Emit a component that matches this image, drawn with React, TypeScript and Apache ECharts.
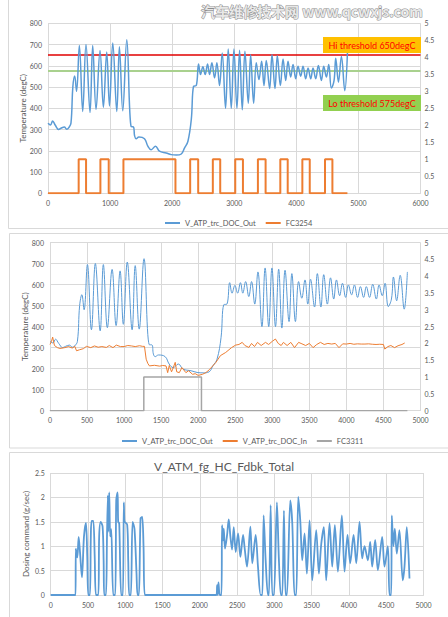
import React, { useEffect, useRef } from 'react';
import * as echarts from 'echarts';

// V_ATP_trc_DOC_Out (degC) vs time
const outTime = [0, 40, 75, 118, 172, 209, 263, 301, 333, 370, 400, 430, 460, 505, 559, 612, 677, 720, 774, 838, 892, 946, 990, 1043, 1108, 1150, 1204, 1269, 1339, 1376, 1395, 1420, 1463, 1554, 1608, 1662, 1732, 1796, 1904, 1985, 2066, 2147, 2200, 2254, 2308, 2345, 2388, 2425, 2457, 2495, 2532, 2570, 2602, 2640, 2683, 2720, 2763, 2806, 2860, 2903, 2952, 2995, 3043, 3086, 3129, 3172, 3226, 3264, 3312, 3355, 3398, 3441, 3479, 3516, 3570, 3608, 3656, 3694, 3743, 3786, 3829, 3866, 3909, 3947, 3990, 4027, 4070, 4108, 4151, 4189, 4232, 4269, 4312, 4355, 4404, 4441, 4484, 4522, 4565, 4608, 4635, 4678, 4726, 4780, 4823];
const outTemp = [330, 322, 340, 320, 300, 306, 312, 302, 308, 330, 500, 552, 480, 695, 385, 700, 380, 695, 395, 672, 405, 665, 411, 707, 385, 690, 388, 723, 314, 313, 270, 257, 265, 257, 222, 205, 222, 198, 190, 182, 180, 185, 214, 245, 347, 504, 507, 609, 559, 596, 559, 609, 559, 614, 543, 614, 507, 660, 400, 679, 400, 679, 400, 673, 393, 668, 424, 652, 424, 614, 535, 622, 507, 625, 493, 652, 493, 647, 507, 632, 531, 622, 547, 606, 539, 598, 551, 598, 539, 590, 539, 590, 539, 601, 531, 598, 547, 606, 495, 531, 636, 523, 644, 483, 660];

// V_ATP_trc_DOC_In (degC) vs time
const inTime = [0, 20, 36, 60, 100, 134, 200, 250, 300, 335, 358, 400, 450, 492, 550, 600, 650, 700, 761, 800, 850, 895, 950, 1000, 1050, 1100, 1150, 1208, 1250, 1275, 1298, 1320, 1342, 1409, 1480, 1520, 1566, 1588, 1610, 1640, 1655, 1690, 1710, 1745, 1780, 1834, 1870, 1924, 1960, 2000, 2057, 2103, 2150, 2237, 2300, 2371, 2450, 2505, 2550, 2594, 2630, 2684, 2720, 2760, 2800, 2850, 2908, 2950, 3000, 3042, 3080, 3120, 3150, 3200, 3250, 3300, 3355, 3400, 3450, 3500, 3550, 3600, 3650, 3700, 3750, 3802, 3850, 3900, 3950, 4000, 4050, 4100, 4150, 4200, 4250, 4300, 4350, 4400, 4450, 4500, 4518, 4560, 4600, 4650, 4697, 4750, 4787];
const inTemp = [315, 330, 350, 310, 300, 296, 300, 305, 298, 306, 285, 290, 295, 306, 300, 308, 302, 305, 301, 310, 300, 312, 305, 305, 310, 308, 305, 309, 306, 306, 245, 225, 213, 216, 212, 215, 213, 181, 215, 185, 197, 230, 185, 181, 205, 181, 190, 173, 176, 168, 173, 181, 195, 229, 262, 277, 300, 312, 315, 325, 310, 301, 320, 305, 325, 310, 325, 315, 330, 341, 320, 310, 325, 310, 325, 300, 325, 318, 310, 320, 300, 315, 325, 315, 320, 317, 320, 300, 318, 317, 320, 316, 318, 317, 317, 318, 316, 315, 316, 315, 293, 305, 310, 300, 309, 315, 322];

// FC3254 flag (step points)
const fc3254Time = [0, 494, 613, 844, 978, 1215, 2053, 2290, 2419, 2655, 2774, 3016, 3140, 3381, 3505, 3742, 3861, 4097, 4216, 4462, 4581, 4823];
const fc3254Val = [0, 1, 0, 1, 0, 1, 0, 1, 0, 1, 0, 1, 0, 1, 0, 1, 0, 1, 0, 1, 0, 0];

// FC3311 flag (step points)
const fc3311Time = [0, 1266, 2044, 4823];
const fc3311Val = [0, 1, 0, 0];

// V_ATM_fg_HC_Fdbk_Total dosing (g/sec)
const doseTime = [0, 334, 336, 357, 375, 393, 419, 446, 473, 490, 504, 526, 538, 549, 571, 590, 607, 638, 650, 670, 696, 710, 718, 741, 755, 767, 772, 785, 798, 812, 839, 865, 879, 897, 905, 919, 946, 968, 981, 990, 999, 1026, 1040, 1053, 1075, 1098, 1124, 1151, 1165, 1183, 1205, 1227, 1245, 1263, 2223, 2232, 2241, 2250, 2268, 2290, 2298, 2312, 2321, 2338, 2365, 2388, 2410, 2432, 2455, 2481, 2513, 2544, 2580, 2602, 2633, 2678, 2704, 2749, 2780, 2816, 2838, 2856, 2883, 2914, 2927, 2950, 2972, 2994, 3034, 3061, 3088, 3106, 3128, 3150, 3168, 3213, 3240, 3271, 3293, 3320, 3347, 3374, 3405, 3436, 3472, 3508, 3561, 3597, 3629, 3664, 3695, 3740, 3776, 3811, 3852, 3905, 3941, 3981, 4017, 4062, 4098, 4142, 4178, 4209, 4254, 4285, 4312, 4352, 4388, 4446, 4477, 4522, 4544, 4566, 4575, 4597, 4615, 4642, 4677, 4722, 4745, 4776, 4812];
const doseVal = [0, 0, 0.95, 0.77, 1.19, 0.88, 0.36, 1.19, 1.48, 0.8, 0, 0, 1.2, 1.52, 1.52, 0.8, 0, 0, 1.2, 1.5, 1.4, 0.7, 0, 0, 1.2, 2.04, 1.3, 2.1, 1.2, 1.35, 0, 0, 1.94, 2.1, 1.5, 1.47, 0, 0, 1.9, 1.5, 1.5, 1.44, 0.7, 0, 0, 1.5, 1.35, 0.44, 0, 0, 1.57, 1.6, 1.0, 0, 0, 0.2, 0, 0.26, 0, 0, 1.43, 1.12, 1.36, 0.95, 1.22, 1.55, 1.2, 0.93, 1.39, 0.88, 1.26, 0.78, 1.23, 0.95, 0.58, 1.4, 0.65, 1.23, 0.58, 0, 0, 1.63, 0.71, 0, 0, 1.84, 0, 0, 1.9, 0.71, 0, 0, 1.73, 0, 0, 1.94, 1.47, 0, 0, 2.01, 1.53, 0.71, 1.26, 0.44, 1.53, 0.3, 1.33, 0.44, 1.05, 1.39, 0.3, 1.47, 0.58, 1.43, 0.48, 1.63, 0.48, 1.23, 0.65, 1.23, 0.65, 1.5, 0.75, 1.0, 0.71, 1.09, 0.58, 1.13, 0.51, 1.19, 0.58, 1.0, 0, 0, 1.63, 1.0, 1.36, 0.85, 1.33, 0.3, 0.58, 1.39, 0.34];

const hiThreshold = 650;
const loThreshold = 575;

const zip = (a: number[], b: number[]) => a.map((v, i) => [v, b[i]]);

const FONT = 'Lato, "Noto Sans", sans-serif';
const LABEL = '#595959';
const GRIDC = '#d9d9d9';

const plain = (v: number) => String(v);
const axisLabel = { color: LABEL, fontSize: 7, fontFamily: FONT, formatter: plain };

function xAx(grid: number, max: number, interval: number) {
  return {
    type: 'value', gridIndex: grid, min: 0, max, interval,
    axisLabel: { ...axisLabel, margin: 6 },
    axisLine: { show: true, lineStyle: { color: GRIDC } },
    axisTick: { show: false },
    splitLine: { show: true, lineStyle: { color: GRIDC, width: 1 } },
  };
}

function yLeft(grid: number, max: number, interval: number, name: string) {
  return {
    type: 'value', gridIndex: grid, position: 'left', min: 0, max, interval,
    name, nameLocation: 'middle', nameGap: 21, nameMoveOverlap: false,
    nameTextStyle: { color: LABEL, fontSize: 8, fontFamily: FONT },
    axisLabel: { ...axisLabel, margin: 6 },
    axisLine: { show: false }, axisTick: { show: false },
    splitLine: { show: true, lineStyle: { color: GRIDC, width: 1 } },
  };
}

function yRight(grid: number) {
  return {
    type: 'value', gridIndex: grid, position: 'right', min: 0, max: 5, interval: 0.5,
    axisLabel: { ...axisLabel, margin: 4 },
    axisLine: { show: false }, axisTick: { show: false },
    splitLine: { show: false },
  };
}

export default function App() {
  const ref = useRef<HTMLDivElement>(null);
  useEffect(() => {
    if (!ref.current) return;
    const chart = echarts.init(ref.current, null, { renderer: 'svg' });
    const legendText = { color: LABEL, fontSize: 7.5, fontFamily: FONT };
    chart.setOption({
      animation: false,
      backgroundColor: '#ffffff',
      title: {
        text: 'V_ATM_fg_HC_Fdbk_Total', left: 'center', top: 455,
        textStyle: { color: LABEL, fontSize: 12, fontWeight: 'normal', fontFamily: FONT },
      },
      grid: [
        { left: 48, right: 27.5, top: 23.3, height: 170, containLabel: false },
        { left: 50, right: 27.5, top: 242.5, height: 168.2, containLabel: false },
        { left: 50.7, right: 24.5, top: 473, height: 122, containLabel: false },
      ],
      legend: [
        {
          left: 160, top: 214, icon: 'rect', itemWidth: 15, itemHeight: 2, itemGap: 10,
          textStyle: legendText, data: ['V_ATP_trc_DOC_Out', 'FC3254'],
        },
        {
          left: 117, top: 432, icon: 'rect', itemWidth: 15, itemHeight: 2, itemGap: 10,
          textStyle: legendText, data: ['V_ATP_trc_DOC_Out', 'V_ATP_trc_DOC_In', 'FC3311'],
        },
      ],
      xAxis: [xAx(0, 6000, 1000), xAx(1, 5000, 500), xAx(2, 5000, 500)],
      yAxis: [
        yLeft(0, 800, 100, 'Temperature (degC)'),
        yRight(0),
        yLeft(1, 800, 100, 'Temperature (degC)'),
        yRight(1),
        yLeft(2, 2.5, 0.5, 'Dosing command (g/sec)'),
      ],
      series: [
        {
          name: 'V_ATP_trc_DOC_Out', type: 'line', xAxisIndex: 0, yAxisIndex: 0,
          data: zip(outTime, outTemp), showSymbol: false, symbol: 'none', smooth: 0.4,
          lineStyle: { color: '#5b9bd5', width: 1.5 }, itemStyle: { color: '#5b9bd5' }, z: 3,
          markLine: {
            symbol: 'none', silent: true, label: { show: false }, z: 2,
            data: [
              { yAxis: hiThreshold, lineStyle: { color: '#e00000', width: 1.5, type: 'solid' } },
              { yAxis: loThreshold, lineStyle: { color: '#a9d18e', width: 2, type: 'solid' } },
            ],
          },
        },
        {
          name: 'FC3254', type: 'line', xAxisIndex: 0, yAxisIndex: 1, step: 'end',
          data: zip(fc3254Time, fc3254Val), showSymbol: false, symbol: 'none',
          lineStyle: { color: '#ed7d31', width: 2 }, itemStyle: { color: '#ed7d31' },
        },
        {
          name: 'V_ATP_trc_DOC_Out', type: 'line', xAxisIndex: 1, yAxisIndex: 2,
          data: zip(outTime, outTemp), showSymbol: false, symbol: 'none', smooth: 0.4,
          lineStyle: { color: '#5b9bd5', width: 1 }, itemStyle: { color: '#5b9bd5' },
        },
        {
          name: 'V_ATP_trc_DOC_In', type: 'line', xAxisIndex: 1, yAxisIndex: 2,
          data: zip(inTime, inTemp), showSymbol: false, symbol: 'none',
          lineStyle: { color: '#ed7d31', width: 1 }, itemStyle: { color: '#ed7d31' },
        },
        {
          name: 'FC3311', type: 'line', xAxisIndex: 1, yAxisIndex: 3, step: 'end',
          data: zip(fc3311Time, fc3311Val), showSymbol: false, symbol: 'none',
          lineStyle: { color: '#a5a5a5', width: 1.5 }, itemStyle: { color: '#a5a5a5' },
        },
        {
          name: 'V_ATM_fg_HC_Fdbk_Total', type: 'line', xAxisIndex: 2, yAxisIndex: 4,
          data: zip(doseTime, doseVal), showSymbol: false, symbol: 'none', smooth: 0.3,
          lineStyle: { color: '#5b9bd5', width: 1.8 }, itemStyle: { color: '#5b9bd5' },
        },
      ],
      graphic: [
        { type: 'rect', shape: { x: 8.5, y: -1, width: 441, height: 229.5 }, style: { fill: 'none', stroke: GRIDC, lineWidth: 1 }, silent: true },
        { type: 'rect', shape: { x: 9.5, y: 233.5, width: 440, height: 214.5 }, style: { fill: 'none', stroke: GRIDC, lineWidth: 1 }, silent: true },
        { type: 'rect', shape: { x: 9.5, y: 452.5, width: 440, height: 170 }, style: { fill: 'none', stroke: GRIDC, lineWidth: 1 }, silent: true },
        { type: 'rect', shape: { x: 323, y: 37, width: 98, height: 16 }, style: { fill: '#ffc000' }, z: 10 },
        { type: 'text', x: 372, y: 45, z: 11, style: { text: 'Hi threshold 650degC', fill: '#ff0000', fontSize: 9, fontFamily: FONT, align: 'center', verticalAlign: 'middle' } },
        { type: 'rect', shape: { x: 323, y: 95, width: 98, height: 16 }, style: { fill: '#92d050' }, z: 10 },
        { type: 'text', x: 372, y: 103, z: 11, style: { text: 'Lo threshold 575degC', fill: '#ff0000', fontSize: 9, fontFamily: FONT, align: 'center', verticalAlign: 'middle' } },
        { type: 'text', x: 201, y: 11, z: 12, style: { text: '汽车维修技术网 www.qcwxjs.com', fill: '#e8e8e8', stroke: '#8c8c8c', lineWidth: 1, fontSize: 14, fontWeight: 'bold', fontFamily: '"Noto Sans CJK SC", sans-serif', align: 'left', verticalAlign: 'middle' } },
      ],
    });
    return () => chart.dispose();
  }, []);
  return <div ref={ref} style={{ position: 'fixed', left: 0, top: 0, width: 448, height: 617 }} />;
}
